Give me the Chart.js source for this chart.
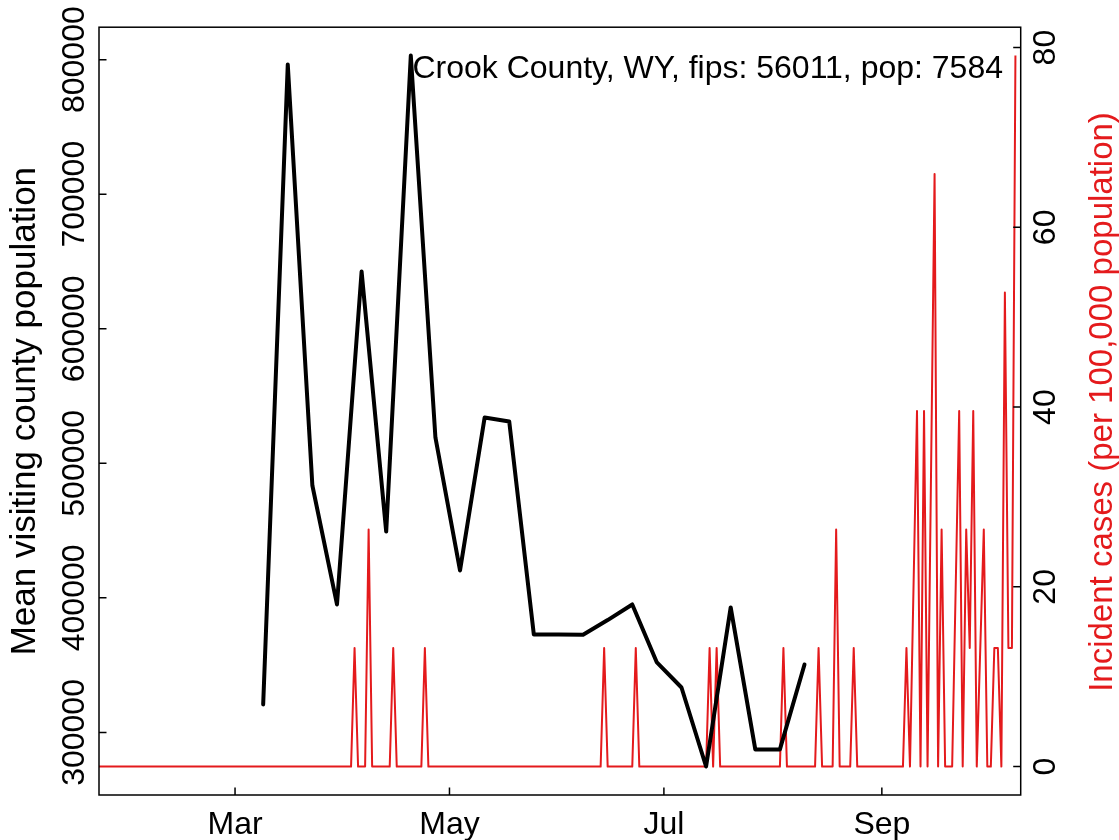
<!DOCTYPE html>
<html>
<head>
<meta charset="utf-8">
<script src="https://cdn.jsdelivr.net/npm/chart.js@4.4.1/dist/chart.umd.min.js"></script>
<style>
  html, body { margin: 0; padding: 0; background: #fff; }
  canvas { display: block; }
</style>
</head>
<body>
<canvas id="myChart" width="1119" height="840"></canvas>
<script>
// days are day-of-year 2020 (Jan 1 = 0, Mar 1 = 60)

// weekly mean visiting county population
var visitDays = [68, 75, 82, 89, 96, 103, 110, 117, 124, 131, 138, 145, 152, 159, 166, 173, 180, 187, 194, 201, 208, 215, 222];
var visitValues = [320800, 796300, 483500, 395100, 642500, 449300, 803000, 519200, 420400, 534000, 531000, 372800,
                   372800, 372600, 383500, 395100, 352000, 333400, 274700, 392900, 287400, 287400, 350500];

// incident cases per 100,000 (corners of the daily red line)
var caseDays = [21, 93, 94, 95, 97, 98, 99, 104, 105, 106, 113, 114, 115, 164, 165, 166, 173, 174, 175,
                194, 195, 196, 197, 198, 215, 216, 217, 225, 226, 227, 230, 231, 232, 235, 236, 237,
                250, 251, 252, 254, 255, 256, 257, 259, 260, 261, 262, 264, 266, 267, 268, 269, 270, 271,
                273, 274, 275, 276, 277, 278, 279, 280, 281, 282];
var caseRates = [0, 0, 13.19, 0, 0, 26.37, 0, 0, 13.19, 0, 0, 13.19, 0, 0, 13.19, 0, 0, 13.19, 0,
                 0, 13.19, 0, 13.19, 0, 0, 13.19, 0, 0, 13.19, 0, 0, 26.37, 0, 0, 13.19, 0,
                 0, 13.19, 0, 39.56, 0, 39.56, 0, 65.93, 0, 26.37, 0, 0, 39.56, 0, 26.37, 13.19, 39.56, 0,
                 26.37, 0, 0, 13.19, 13.19, 0, 52.74, 13.19, 13.19, 79.11];

var monthDays = [60, 121, 182, 244];
var monthLabels = ['Mar', 'May', 'Jul', 'Sep'];
var popTicks = [300000, 400000, 500000, 600000, 700000, 800000];
var caseTicks = [0, 20, 40, 60, 80];

var FONT = '"Liberation Sans", Arial, Helvetica, sans-serif';
var SIZE = 32;
var RED = '#e41a1c';

// measure label widths so the rotated labels can be centred where R puts them
var mctx = document.createElement('canvas').getContext('2d');
mctx.font = SIZE + 'px ' + FONT;
var wLeft = mctx.measureText('800000').width;
var wRight = mctx.measureText('80').width;

function fixedTicks(list) {
    return function(scale) {
        scale.ticks = list.map(function(v) { return { value: v }; });
    };
}

var frame = {
    id: 'frame',
    afterDraw: function(chart) {
        var ctx = chart.ctx, a = chart.chartArea;
        var sx = chart.scales.x, sy = chart.scales.y, sy2 = chart.scales.y2;
        ctx.save();
        ctx.strokeStyle = '#000';
        ctx.lineWidth = 1.5;
        ctx.strokeRect(a.left, a.top, a.right - a.left, a.bottom - a.top);
        // R style ticks pointing into the plot
        ctx.beginPath();
        monthDays.forEach(function(v) {
            var p = sx.getPixelForValue(v);
            ctx.moveTo(p, a.bottom); ctx.lineTo(p, a.bottom - 7.5);
        });
        popTicks.forEach(function(v) {
            var p = sy.getPixelForValue(v);
            ctx.moveTo(a.left, p); ctx.lineTo(a.left + 7.5, p);
        });
        caseTicks.forEach(function(v) {
            var p = sy2.getPixelForValue(v);
            ctx.moveTo(a.right, p); ctx.lineTo(a.right - 7.5, p);
        });
        ctx.stroke();

        ctx.font = SIZE + 'px ' + FONT;
        ctx.fillStyle = '#000';
        ctx.textAlign = 'right';
        ctx.textBaseline = 'alphabetic';
        ctx.fillText('Crook County, WY, fips: 56011, pop: 7584', 1003, 78);

        // right axis title reads bottom to top like the left one
        ctx.font = '33px ' + FONT;
        ctx.translate(1103, 402);
        ctx.rotate(-Math.PI / 2);
        ctx.fillStyle = RED;
        ctx.textAlign = 'center';
        ctx.textBaseline = 'middle';
        ctx.fillText('Incident cases (per 100,000 population)', 0, 0);
        ctx.restore();
    }
};

var ctx = document.getElementById('myChart').getContext('2d');
var chart = new Chart(ctx, {
    type: 'line',
    data: {
        datasets: [{
            label: 'Mean visiting county population',
            data: visitDays.map(function(d, i) { return { x: d, y: visitValues[i] }; }),
            borderColor: '#000',
            borderWidth: 4,
            borderJoinStyle: 'round',
            borderCapStyle: 'round',
            pointRadius: 0,
            tension: 0,
            yAxisID: 'y'
        }, {
            label: 'Incident cases',
            data: caseDays.map(function(d, i) { return { x: d, y: caseRates[i] }; }),
            borderColor: RED,
            borderWidth: 2,
            borderJoinStyle: 'round',
            pointRadius: 0,
            tension: 0,
            yAxisID: 'y2'
        }]
    },
    options: {
        responsive: false,
        animation: false,
        devicePixelRatio: 1,
        layout: { padding: { top: 27, left: 0, right: 0, bottom: 0 } },
        plugins: { legend: { display: false }, tooltip: { enabled: false } },
        scales: {
            x: {
                type: 'linear',
                min: 21.3,
                max: 283.5,
                afterBuildTicks: fixedTicks(monthDays),
                afterFit: function(s) { s.height = 45; },
                grid: { display: false, drawTicks: false },
                border: { display: false },
                ticks: {
                    autoSkip: false, minRotation: 0, maxRotation: 0, padding: 11,
                    color: '#000', font: { family: FONT, size: SIZE },
                    callback: function(v) { var i = monthDays.indexOf(v); return i >= 0 ? monthLabels[i] : ''; }
                }
            },
            y: {
                type: 'linear',
                position: 'left',
                min: 253500,
                max: 824100,
                afterBuildTicks: fixedTicks(popTicks),
                afterFit: function(s) { s.width = 99; },
                grid: { display: false, drawTicks: false },
                border: { display: false },
                title: {
                    display: true, text: 'Mean visiting county population', color: '#000',
                    font: { family: FONT, size: 35 }, padding: { top: 4, bottom: 0 }
                },
                ticks: {
                    autoSkip: false, minRotation: 90, maxRotation: 90, crossAlign: 'center',
                    padding: 24 - wLeft / 2,
                    color: '#000', font: { family: FONT, size: SIZE },
                    callback: function(v) { return String(v); }
                }
            },
            y2: {
                type: 'linear',
                position: 'right',
                min: -3.16,
                max: 82.27,
                afterBuildTicks: fixedTicks(caseTicks),
                afterFit: function(s) { s.width = 98.3; },
                grid: { display: false, drawTicks: false },
                border: { display: false },
                ticks: {
                    autoSkip: false, minRotation: 90, maxRotation: 90, crossAlign: 'center',
                    padding: 25.8 - wRight / 2,
                    color: '#000', font: { family: FONT, size: SIZE },
                    callback: function(v) { return String(v); }
                }
            }
        }
    },
    plugins: [frame]
});
</script>
</body>
</html>
